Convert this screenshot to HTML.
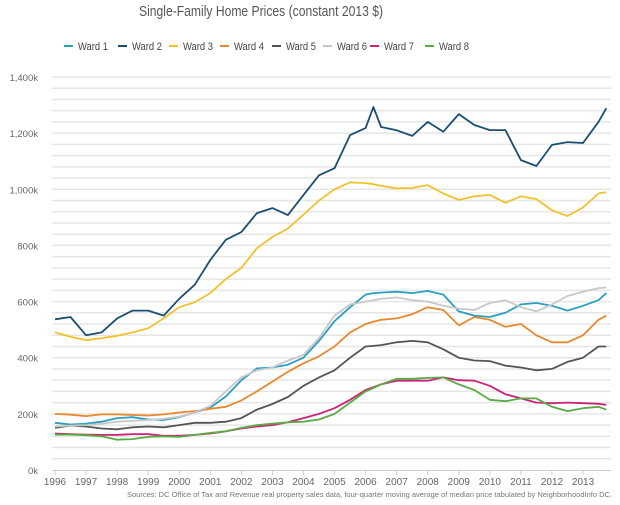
<!DOCTYPE html>
<html><head><meta charset="utf-8"><style>
body{margin:0;background:#fff;font-family:"Liberation Sans",sans-serif}
svg{display:block}
</style></head><body>
<svg id="c" width="620" height="505">
<text x="139" y="16" textLength="244" lengthAdjust="spacingAndGlyphs" font-size="15" fill="#555">Single-Family Home Prices (constant 2013 $)</text>
<g id="grid"></g><g id="axes"></g><g id="lines"></g><g id="legend"></g>
<text x="612" y="497" text-anchor="end" font-size="7.5" fill="#777">Sources: DC Office of Tax and Revenue real property sales data, four-quarter moving average of median price tabulated by NeighborhoodInfo DC.</text>
</svg>
<script>
const times=[1996,1996.5,1997,1997.5,1998,1998.5,1999,1999.5,2000,2000.5,2001,2001.5,2002,2002.5,2003,2003.5,2004,2004.5,2005,2005.5,2006,2006.25,2006.5,2007,2007.5,2008,2008.5,2009,2009.5,2010,2010.5,2011,2011.5,2012,2012.5,2013,2013.5,2013.75];
const seriesNames=["Ward 1","Ward 2","Ward 3","Ward 4","Ward 5","Ward 6","Ward 7","Ward 8"];
const ward1=[168,162,165,172,185,188,180,178,188,205,222,262,320,362,365,375,400,460,530,580,625,630,632,635,630,638,625,565,550,545,560,590,595,585,568,585,605,630];
const ward2=[537,545,480,490,540,568,568,550,610,660,748,820,848,915,933,908,980,1050,1075,1193,1218,1293,1222,1210,1190,1240,1205,1268,1229,1211,1211,1104,1083,1158,1168,1165,1240,1289];
const ward3=[490,475,462,470,478,490,505,540,580,598,630,680,720,790,830,860,910,960,1000,1025,1022,1018,1012,1003,1005,1015,985,962,975,980,952,975,965,925,905,935,985,990];
const ward4=[200,197,192,198,198,196,194,198,205,210,218,225,248,280,315,350,380,405,440,490,520,528,535,540,555,580,570,515,545,535,510,520,480,455,455,480,535,550];
const ward5=[150,158,155,148,145,152,155,152,160,168,168,172,185,215,235,260,300,330,355,400,440,442,445,455,460,455,430,400,390,388,372,365,355,360,385,400,440,440];
const ward6=[155,158,160,165,172,175,178,182,190,205,228,280,330,355,365,390,410,470,550,590,600,605,610,615,605,600,585,575,570,595,605,580,565,590,620,635,648,650];
const ward7=[130,128,126,125,125,128,128,122,122,125,130,138,148,155,160,170,185,200,220,250,285,295,305,318,318,318,330,320,318,300,270,255,240,238,240,238,236,232];
const ward8=[126,126,124,120,108,110,118,120,118,125,132,138,150,160,165,170,172,180,200,240,280,292,305,325,325,328,330,305,285,250,245,255,255,225,210,220,225,215];
const yTicks=[0,200,400,600,800,1000,1200,1400];
const yTickLabels=["0k","200k","400k","600k","800k","1,000k","1,200k","1,400k"];
const years=[1996,1997,1998,1999,2000,2001,2002,2003,2004,2005,2006,2007,2008,2009,2010,2011,2012,2013];
const colors=["#2a9fc0","#1b4f72","#f2c12e","#e8872e","#555555","#c8c8c8","#cc2277","#5aaa46"];
const all=[ward1,ward2,ward3,ward4,ward5,ward6,ward7,ward8];
const NS="http://www.w3.org/2000/svg";
const X=t=>55+(t-1996)*31.06, Y=v=>470-v*393/1400;
function mk(tag,at,parent){const e=document.createElementNS(NS,tag);for(const k in at)e.setAttribute(k,at[k]);parent.appendChild(e);return e;}
const grid=document.getElementById('grid'),axes=document.getElementById('axes'),lines=document.getElementById('lines'),leg=document.getElementById('legend');
for(let v=40;v<=1400;v+=40){const l=mk('line',{x1:52,x2:611,y1:Y(v),y2:Y(v),stroke:'#e6e6e6','stroke-width':1.5},grid);

}
const ax=mk('line',{x1:52,x2:611,y1:470.5,y2:470.5,stroke:'#ccc','stroke-width':1},axes);


yTicks.forEach((v,i)=>{const t=mk('text',{x:38,y:Y(v)+4,'text-anchor':'end','font-size':9.5,fill:'#666'},axes);t.textContent=yTickLabels[i];

});
years.forEach(yr=>{mk('line',{x1:X(yr),x2:X(yr),y1:470,y2:475,stroke:'#ccc'},axes);
const t=mk('text',{x:X(yr),y:485,'text-anchor':'middle','font-size':10,fill:'#666'},axes);t.textContent=yr;

});
all.forEach((s,i)=>{const d=s.map((v,j)=>(j?'L':'M')+X(times[j]).toFixed(1)+','+Y(v).toFixed(1)).join('');
const p=mk('path',{d:d,fill:'none',stroke:colors[i],'stroke-width':1.8,'stroke-linejoin':'round'},lines);

});
const lx=[64,118,169,220,272,323,370,425];
seriesNames.forEach((n,i)=>{const g=mk('g',{},leg);


mk('line',{x1:lx[i],x2:lx[i]+9,y1:46,y2:46,stroke:colors[i],'stroke-width':2},g);
const t=mk('text',{x:lx[i]+14,y:50,'font-size':11,fill:'#444',textLength:30,lengthAdjust:'spacingAndGlyphs'},g);t.textContent=n;});
</script>
</body></html>
